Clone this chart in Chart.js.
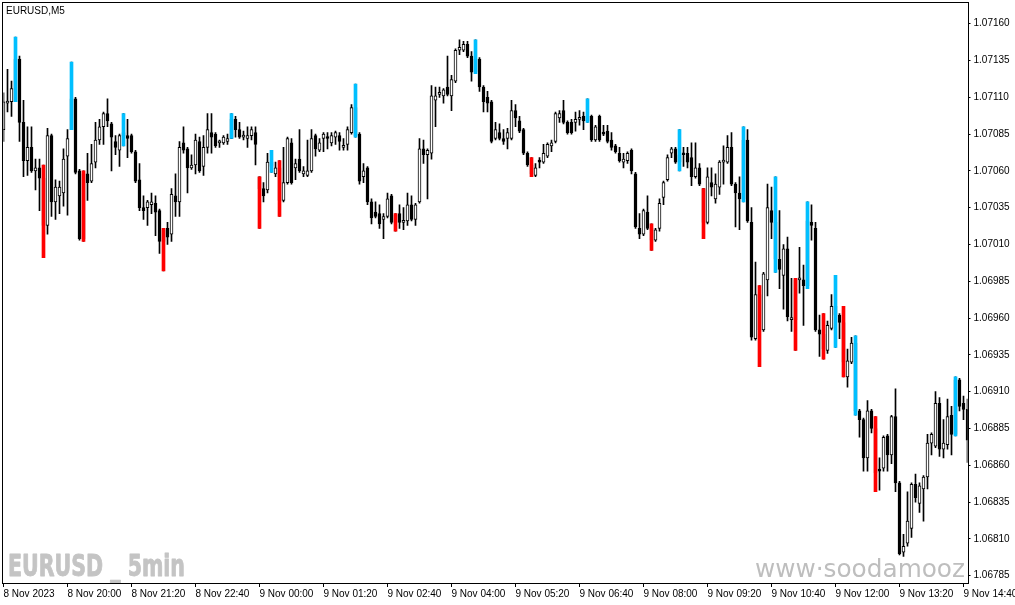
<!DOCTYPE html>
<html lang="en">

<head>
    <meta charset="UTF-8">
    <title>EURUSD,M5</title>
    <style>
        html, body { margin: 0; padding: 0; background: #fff; }
        #grafica { display: block; }
    </style>
    <script src="https://cdn.jsdelivr.net/npm/chart.js@4.4.0/dist/chart.umd.min.js"></script>
</head>

<body>
    <canvas id="grafica" width="1015" height="605"></canvas>
    <script>
        // velas M5, 8 Nov 2023 18:40 -> 9 Nov 14:45
        const openP = [
            1.07088,1.07106,1.07107,1.07107,1.07136,1.07093,1.07067,1.07076,1.07060,1.07062,
            1.07055,1.07023,1.07084,1.07039,1.07043,1.07045,1.07070,1.07088,1.07109,1.07060,
            1.07014,1.07058,1.07053,1.07066,1.07081,1.07090,1.07099,1.07092,1.07080,1.07074,
            1.07084,1.07084,1.07084,1.07073,1.07054,1.07035,1.07035,1.07037,1.07038,1.07033,
            1.07012,1.07021,1.07017,1.07043,1.07039,1.07079,1.07075,1.07062,1.07064,1.07080,
            1.07063,1.07076,1.07086,1.07085,1.07079,1.07079,1.07080,1.07082,1.07095,1.07088,
            1.07083,1.07082,1.07084,1.07086,1.07056,1.07048,1.07047,1.07066,1.07058,1.07062,
            1.07040,1.07052,1.07079,1.07062,1.07068,1.07058,1.07057,1.07060,1.07084,1.07074,
            1.07082,1.07083,1.07079,1.07083,1.07084,1.07076,1.07078,1.07086,1.07103,1.07085,
            1.07056,1.07062,1.07039,1.07032,1.07031,1.07027,1.07029,1.07043,1.07025,1.07031,
            1.07025,1.07026,1.07037,1.07027,1.07039,1.07075,1.07071,1.07072,1.07108,1.07112,
            1.07111,1.07117,1.07111,1.07121,1.07142,1.07142,1.07146,1.07138,1.07127,1.07136,
            1.07117,1.07110,1.07107,1.07082,1.07086,1.07082,1.07082,1.07082,1.07101,1.07094,
            1.07088,1.07072,1.07064,1.07057,1.07067,1.07066,1.07070,1.07077,1.07080,1.07096,
            1.07101,1.07093,1.07093,1.07093,1.07095,1.07097,1.07094,1.07097,1.07081,1.07097,
            1.07086,1.07087,1.07081,1.07077,1.07072,1.07066,1.07067,1.07074,1.07058,1.07021,
            1.07017,1.07032,1.07021,1.07013,1.07021,1.07042,1.07054,1.07072,1.07075,1.07066,
            1.07072,1.07072,1.07069,1.07056,1.07062,1.07048,1.07025,1.07052,1.07041,1.07049,
            1.07066,1.07066,1.07076,1.07051,1.07045,1.07041,1.07081,1.07025,1.06946,1.06976,
            1.06952,1.06986,1.07033,1.07025,1.07000,1.06989,1.07007,1.06959,1.06959,1.06986,
            1.06986,1.06982,1.07025,1.07021,1.06952,1.06949,1.06938,1.06953,1.06968,1.06962,
            1.06957,1.06920,1.06930,1.06943,1.06897,1.06891,1.06865,1.06897,1.06885,1.06857,
            1.06858,1.06880,1.06867,1.06893,1.06848,1.06801,1.06807,1.06817,1.06847,1.06834,
            1.06844,1.06852,1.06875,1.06873,1.06902,1.06871,1.06874,1.06894,1.06881,1.06918,
            1.06902,1.06898
        ];
        const highP = [
            1.07113,1.07129,1.07121,1.07151,1.07138,1.07108,1.07090,1.07090,1.07068,1.07068,
            1.07064,1.07089,1.07085,1.07054,1.07053,1.07075,1.07088,1.07134,1.07110,1.07061,
            1.07060,1.07072,1.07078,1.07093,1.07095,1.07100,1.07109,1.07093,1.07084,1.07085,
            1.07099,1.07095,1.07085,1.07074,1.07065,1.07043,1.07040,1.07045,1.07043,1.07034,
            1.07021,1.07025,1.07048,1.07058,1.07080,1.07090,1.07076,1.07071,1.07085,1.07083,
            1.07084,1.07099,1.07099,1.07086,1.07081,1.07084,1.07085,1.07099,1.07097,1.07093,
            1.07087,1.07090,1.07090,1.07090,1.07056,1.07052,1.07072,1.07074,1.07066,1.07067,
            1.07076,1.07083,1.07082,1.07068,1.07088,1.07063,1.07081,1.07088,1.07085,1.07082,
            1.07086,1.07086,1.07086,1.07087,1.07086,1.07082,1.07090,1.07105,1.07119,1.07086,
            1.07065,1.07063,1.07041,1.07039,1.07037,1.07031,1.07045,1.07044,1.07031,1.07037,
            1.07035,1.07045,1.07043,1.07038,1.07082,1.07081,1.07075,1.07118,1.07117,1.07117,
            1.07116,1.07138,1.07125,1.07143,1.07149,1.07148,1.07148,1.07141,1.07149,1.07137,
            1.07118,1.07114,1.07108,1.07093,1.07092,1.07088,1.07089,1.07108,1.07105,1.07097,
            1.07089,1.07073,1.07069,1.07065,1.07069,1.07078,1.07079,1.07081,1.07100,1.07101,
            1.07108,1.07094,1.07095,1.07100,1.07101,1.07100,1.07109,1.07098,1.07091,1.07098,
            1.07091,1.07091,1.07086,1.07078,1.07076,1.07072,1.07073,1.07075,1.07059,1.07031,
            1.07034,1.07043,1.07024,1.07021,1.07041,1.07053,1.07071,1.07076,1.07076,1.07088,
            1.07076,1.07076,1.07079,1.07079,1.07065,1.07048,1.07062,1.07062,1.07058,1.07067,
            1.07077,1.07084,1.07086,1.07052,1.07056,1.07090,1.07088,1.07035,1.06998,1.06982,
            1.06991,1.07051,1.07049,1.07056,1.07033,1.07010,1.07015,1.06987,1.06987,1.07008,
            1.06996,1.07039,1.07037,1.07025,1.06962,1.06963,1.06958,1.06976,1.06989,1.06963,
            1.06968,1.06939,1.06947,1.06948,1.06898,1.06892,1.06904,1.06898,1.06893,1.06865,
            1.06880,1.06881,1.06894,1.06912,1.06849,1.06813,1.06842,1.06848,1.06854,1.06848,
            1.06853,1.06881,1.06882,1.06910,1.06906,1.06891,1.06905,1.06900,1.06920,1.06919,
            1.06907,1.06905
        ];
        const lowP = [
            1.07080,1.07100,1.07097,1.07107,1.07080,1.07056,1.07057,1.07059,1.07047,1.07033,
            1.07001,1.07017,1.07029,1.07027,1.07031,1.07036,1.07030,1.07088,1.07058,1.07013,
            1.07012,1.07040,1.07052,1.07062,1.07078,1.07078,1.07090,1.07060,1.07071,1.07063,
            1.07077,1.07069,1.07072,1.07052,1.07033,1.07027,1.07023,1.07031,1.07016,1.07004,
            1.06992,1.07010,1.07012,1.07029,1.07029,1.07072,1.07045,1.07061,1.07058,1.07059,
            1.07057,1.07072,1.07072,1.07076,1.07076,1.07078,1.07078,1.07082,1.07083,1.07082,
            1.07081,1.07076,1.07081,1.07064,1.07021,1.07039,1.07045,1.07059,1.07056,1.07029,
            1.07039,1.07051,1.07051,1.07054,1.07059,1.07056,1.07056,1.07059,1.07070,1.07073,
            1.07073,1.07075,1.07077,1.07078,1.07074,1.07074,1.07074,1.07085,1.07083,1.07051,
            1.07052,1.07037,1.07024,1.07028,1.07021,1.07014,1.07028,1.07024,1.07019,1.07021,
            1.07020,1.07023,1.07026,1.07023,1.07038,1.07065,1.07041,1.07068,1.07090,1.07110,
            1.07106,1.07111,1.07101,1.07120,1.07139,1.07141,1.07137,1.07121,1.07126,1.07114,
            1.07100,1.07100,1.07079,1.07081,1.07081,1.07078,1.07075,1.07081,1.07090,1.07086,
            1.07071,1.07063,1.07056,1.07056,1.07062,1.07065,1.07069,1.07073,1.07079,1.07093,
            1.07092,1.07085,1.07085,1.07087,1.07091,1.07088,1.07093,1.07080,1.07080,1.07080,
            1.07084,1.07079,1.07074,1.07072,1.07066,1.07062,1.07065,1.07058,1.07021,1.07014,
            1.07016,1.07020,1.07006,1.07012,1.07019,1.07037,1.07053,1.07069,1.07065,1.07060,
            1.07063,1.07062,1.07050,1.07055,1.07050,1.07014,1.07024,1.07043,1.07038,1.07044,
            1.07051,1.07065,1.07050,1.07022,1.07020,1.07039,1.07025,1.06945,1.06945,1.06927,
            1.06951,1.06975,1.07014,1.06991,1.06980,1.06966,1.06958,1.06951,1.06938,1.06977,
            1.06955,1.06980,1.07013,1.06951,1.06934,1.06932,1.06936,1.06952,1.06940,1.06946,
            1.06920,1.06913,1.06929,1.06894,1.06879,1.06856,1.06856,1.06882,1.06842,1.06843,
            1.06856,1.06856,1.06861,1.06842,1.06799,1.06798,1.06805,1.06811,1.06835,1.06828,
            1.06822,1.06844,1.06867,1.06872,1.06866,1.06865,1.06871,1.06867,1.06880,1.06897,
            1.06891,1.06862
        ];
        const closeP = [
            1.07107,1.07107,1.07116,1.07136,1.07093,1.07067,1.07076,1.07060,1.07062,1.07055,
            1.07023,1.07084,1.07039,1.07049,1.07049,1.07068,1.07082,1.07109,1.07059,1.07014,
            1.07058,1.07052,1.07065,1.07081,1.07090,1.07099,1.07094,1.07083,1.07076,1.07084,
            1.07086,1.07082,1.07073,1.07053,1.07035,1.07033,1.07039,1.07039,1.07032,1.07012,
            1.07020,1.07015,1.07044,1.07039,1.07076,1.07074,1.07062,1.07064,1.07081,1.07060,
            1.07076,1.07088,1.07083,1.07077,1.07080,1.07083,1.07082,1.07095,1.07088,1.07083,
            1.07084,1.07084,1.07088,1.07078,1.07048,1.07043,1.07066,1.07063,1.07062,1.07040,
            1.07052,1.07082,1.07052,1.07065,1.07060,1.07060,1.07060,1.07082,1.07075,1.07079,
            1.07085,1.07082,1.07084,1.07086,1.07080,1.07077,1.07088,1.07103,1.07084,1.07053,
            1.07060,1.07039,1.07028,1.07029,1.07024,1.07029,1.07041,1.07025,1.07030,1.07025,
            1.07026,1.07037,1.07027,1.07037,1.07075,1.07071,1.07074,1.07111,1.07111,1.07113,
            1.07115,1.07112,1.07122,1.07142,1.07144,1.07146,1.07138,1.07127,1.07136,1.07117,
            1.07107,1.07106,1.07080,1.07088,1.07082,1.07080,1.07086,1.07101,1.07096,1.07087,
            1.07072,1.07064,1.07058,1.07062,1.07066,1.07072,1.07078,1.07079,1.07099,1.07099,
            1.07093,1.07086,1.07086,1.07095,1.07096,1.07094,1.07097,1.07081,1.07090,1.07081,
            1.07085,1.07080,1.07076,1.07073,1.07067,1.07068,1.07072,1.07060,1.07022,1.07017,
            1.07033,1.07021,1.07013,1.07020,1.07038,1.07052,1.07069,1.07075,1.07066,1.07071,
            1.07071,1.07066,1.07056,1.07062,1.07051,1.07025,1.07056,1.07049,1.07051,1.07066,
            1.07067,1.07076,1.07051,1.07045,1.07041,1.07081,1.07026,1.06947,1.06976,1.06952,
            1.06990,1.07035,1.07025,1.07000,1.06993,1.07007,1.06961,1.06960,1.06986,1.06987,
            1.06982,1.07026,1.07023,1.06952,1.06949,1.06939,1.06955,1.06968,1.06962,1.06957,
            1.06930,1.06931,1.06943,1.06897,1.06891,1.06865,1.06897,1.06885,1.06855,1.06856,
            1.06879,1.06867,1.06893,1.06848,1.06800,1.06805,1.06822,1.06847,1.06838,1.06846,
            1.06852,1.06875,1.06881,1.06902,1.06871,1.06875,1.06893,1.06881,1.06918,1.06900,
            1.06898,1.06877
        ];
        // barras del indicador (indice de vela)
        const blueBars = [3, 17, 30, 57, 67, 88, 118, 146, 169, 185, 193, 201, 208, 213, 238];
        const redBars = [10, 20, 40, 64, 69, 98, 132, 162, 175, 189, 198, 205, 210, 218];

        const priceTicks = [1.07160, 1.07135, 1.07110, 1.07085, 1.07060, 1.07035, 1.07010, 1.06985,
            1.06960, 1.06935, 1.06910, 1.06885, 1.06860, 1.06835, 1.06810, 1.06785];
        // una etiqueta cada 16 velas
        const timeTicks = ["8 Nov 2023", "8 Nov 20:00", "8 Nov 21:20", "8 Nov 22:40", "9 Nov 00:00",
            "9 Nov 01:20", "9 Nov 02:40", "9 Nov 04:00", "9 Nov 05:20", "9 Nov 06:40", "9 Nov 08:00",
            "9 Nov 09:20", "9 Nov 10:40", "9 Nov 12:00", "9 Nov 13:20", "9 Nov 14:40"];
        const tituloSimbolo = "EURUSD,M5";
        const marcaIzq = "EURUSD _ 5min";
        const marcaDer = "www\u00B7soodamooz";

        const etiquetas = openP.map((_, i) => i);
        const mechas = etiquetas.map(i => [lowP[i], highP[i]]);
        const cuerpos = etiquetas.map(i => [openP[i], closeP[i]]);
        const azules = etiquetas.map(i => blueBars.includes(i) ? [lowP[i], highP[i]] : null);
        const rojas = etiquetas.map(i => redBars.includes(i) ? [lowP[i], highP[i]] : null);

        const fuenteEjes = { family: '"Liberation Sans", Arial, sans-serif', size: 10 };

        // marco, titulo y marcas de agua
        const marcoYTextos = {
            id: 'marcoYTextos',
            beforeDatasetsDraw(chart) {
                const ctx = chart.ctx;
                ctx.save();
                ctx.fillStyle = '#c4c4c4';
                ctx.strokeStyle = '#c4c4c4';
                ctx.lineWidth = 0.9;
                ctx.lineJoin = 'round';
                ctx.font = 'bold 31px "DejaVu Sans Condensed", "DejaVu Sans", sans-serif';
                ctx.textBaseline = 'alphabetic';
                let w = ctx.measureText(marcaIzq).width;
                ctx.translate(8, 576);
                ctx.scale(177 / w, 1);
                ctx.fillText(marcaIzq, 0, 0);
                ctx.strokeText(marcaIzq, 0, 0);
                ctx.restore();

                ctx.save();
                ctx.fillStyle = '#bebebe';
                ctx.font = '24px "DejaVu Sans", sans-serif';
                ctx.textBaseline = 'alphabetic';
                w = ctx.measureText(marcaDer).width;
                ctx.translate(755, 577);
                ctx.scale(210 / w, 1);
                ctx.fillText(marcaDer, 0, 0);
                ctx.restore();

                ctx.save();
                ctx.strokeStyle = '#000';
                ctx.lineWidth = 1;
                ctx.strokeRect(2.5, 2.5, 966, 581);
                ctx.fillStyle = '#000';
                ctx.font = '10px "Liberation Sans", Arial, sans-serif';
                ctx.textBaseline = 'top';
                ctx.fillText(tituloSimbolo, 6, 6);
                ctx.restore();
            }
        };

        const $grafica = document.querySelector("#grafica");
        const grafica = new Chart($grafica, {
            type: 'bar',
            data: {
                labels: etiquetas,
                datasets: [
                    {
                        data: azules, backgroundColor: '#00bfff', barThickness: 3,
                        grouped: false, order: 0
                    },
                    {
                        data: rojas, backgroundColor: '#ff0000', barThickness: 3,
                        grouped: false, order: 0
                    },
                    {
                        data: cuerpos,
                        backgroundColor: c => closeP[c.dataIndex] >= openP[c.dataIndex] ? '#ffffff' : '#000000',
                        borderColor: '#000', borderWidth: 1, borderSkipped: false,
                        barThickness: 3, minBarLength: 2, grouped: false, order: 1
                    },
                    {
                        data: mechas, backgroundColor: '#000', barThickness: 1,
                        grouped: false, order: 2
                    }
                ]
            },
            options: {
                responsive: false,
                animation: false,
                devicePixelRatio: 1,
                layout: { padding: { left: 3.5, top: 3, right: 0, bottom: 0 } },
                plugins: { legend: { display: false }, tooltip: { enabled: false } },
                scales: {
                    x: {
                        type: 'category',
                        offset: false,
                        grid: { offset: false, drawOnChartArea: false, drawTicks: true, tickLength: 4, color: '#000' },
                        border: { display: false },
                        afterBuildTicks: s => { s.ticks = s.ticks.filter(t => t.value % 16 === 0); },
                        afterFit: s => { s.height = 22; s.paddingLeft = 0; s.paddingRight = 0; },
                        ticks: {
                            autoSkip: false, maxRotation: 0, minRotation: 0, align: 'start',
                            padding: 1, color: '#000', font: fuenteEjes,
                            callback: v => timeTicks[v / 16]
                        }
                    },
                    y: {
                        type: 'linear',
                        position: 'right',
                        min: 1.06780,
                        max: 1.07170,
                        grid: { drawOnChartArea: false, drawTicks: true, tickLength: 3, color: '#000' },
                        border: { display: false },
                        afterBuildTicks: s => { s.ticks = priceTicks.map(v => ({ value: v })); },
                        afterFit: s => { s.width = 47.5; },
                        ticks: {
                            padding: 3, color: '#000', font: fuenteEjes,
                            callback: v => v.toFixed(5)
                        }
                    }
                }
            },
            plugins: [marcoYTextos]
        });
    </script>
</body>

</html>
